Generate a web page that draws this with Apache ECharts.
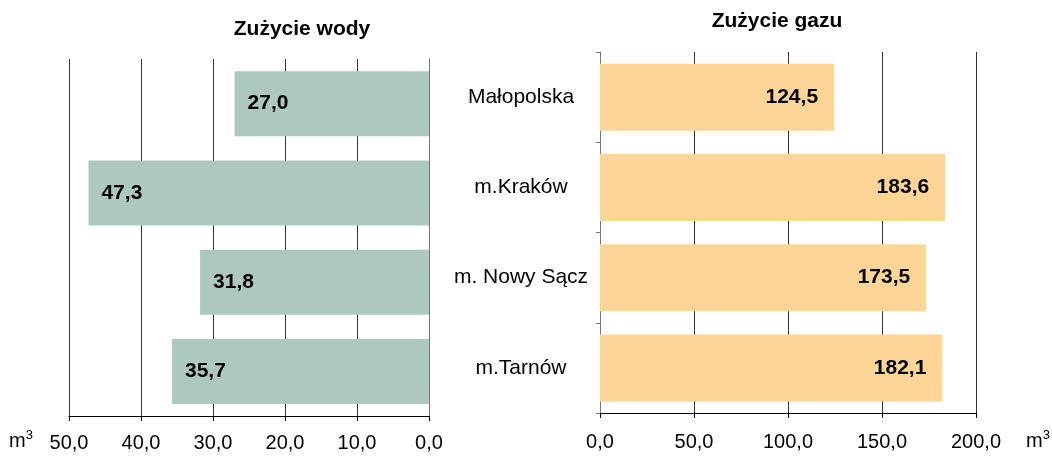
<!DOCTYPE html>
<html>
<head>
<meta charset="utf-8">
<script src="https://cdn.jsdelivr.net/npm/echarts@6/dist/echarts.min.js"></script>
<style>
  html, body { margin: 0; padding: 0; background: #fff; }
  #chart { width: 1052px; height: 457px; }
</style>
</head>
<body>
<div id="chart"></div>
<script>
  const categories = ['Małopolska', 'm.Kraków', 'm. Nowy Sącz', 'm.Tarnów'];
  const water = [27.0, 47.3, 31.8, 35.7];
  const gas = [124.5, 183.6, 173.5, 182.1];
  const titles = ['Zużycie wody', 'Zużycie gazu'];

  const font = '"Liberation Sans", Arial, sans-serif';
  const fmt = v => Number(v).toFixed(1).replace('.', ',');

  const unitStyle = {
    text: '{a|m}{s|3}',
    rich: {
      a: { fontSize: 20, fontFamily: font, fill: '#000' },
      s: { fontSize: 13, fontFamily: font, fill: '#000', verticalAlign: 'top', padding: [0, 0, 12, 0] }
    }
  };

  const chart = echarts.init(document.getElementById('chart'));
  const option = {
    animation: false,
    textStyle: { fontFamily: font },
    title: [
      { text: titles[0], left: 297, top: 14, textAlign: 'center',
        textStyle: { fontSize: 21, fontWeight: 'bold', color: '#000', fontFamily: font } },
      { text: titles[1], left: 772, top: 6, textAlign: 'center',
        textStyle: { fontSize: 21, fontWeight: 'bold', color: '#000', fontFamily: font } }
    ],
    graphic: [
      { type: 'text', left: 9, top: 429, style: unitStyle },
      { type: 'text', left: 1026, top: 429, style: unitStyle }
    ],
    grid: [
      { left: 69, right: 623, top: 59, bottom: 41 },
      { left: 600, right: 76, top: 52, bottom: 44 }
    ],
    xAxis: [
      { gridIndex: 0, type: 'value', min: 0, max: 50, interval: 10, inverse: true,
        axisLine: { show: true, lineStyle: { color: '#000', width: 1 } },
        axisTick: { show: true, length: 5, lineStyle: { color: '#000' } },
        splitLine: { show: true, lineStyle: { color: '#333', width: 1 } },
        axisLabel: { formatter: fmt, fontSize: 20, color: '#000', margin: 17, fontFamily: font } },
      { gridIndex: 1, type: 'value', min: 0, max: 200, interval: 50,
        axisLine: { show: true, lineStyle: { color: '#000', width: 1 } },
        axisTick: { show: true, length: 5, lineStyle: { color: '#000' } },
        splitLine: { show: true, lineStyle: { color: '#333', width: 1 } },
        axisLabel: { formatter: fmt, fontSize: 20, color: '#000', margin: 19, fontFamily: font } }
    ],
    yAxis: [
      { gridIndex: 0, type: 'category', data: categories, inverse: true, position: 'right',
        axisLine: { show: true, lineStyle: { color: '#777' } },
        axisTick: { show: false },
        axisLabel: { show: false } },
      { gridIndex: 1, type: 'category', data: categories, inverse: true,
        axisLine: { show: true, lineStyle: { color: '#777' } },
        axisTick: { show: true, length: 4, lineStyle: { color: '#777' } },
        axisLabel: { fontSize: 21, color: '#000', align: 'center', margin: 79, fontFamily: font } }
    ],
    series: [
      { type: 'bar', xAxisIndex: 0, yAxisIndex: 0, data: water, barWidth: 65,
        itemStyle: { color: '#ADC9BF' },
        label: { show: true, position: 'insideLeft', distance: 13, formatter: p => fmt(p.value),
          fontSize: 21, fontWeight: 'bold', color: '#000', fontFamily: font } },
      { type: 'bar', xAxisIndex: 1, yAxisIndex: 1, data: gas, barWidth: 67,
        itemStyle: { color: '#FDD597' },
        label: { show: true, position: 'insideRight', distance: 16, formatter: p => fmt(p.value),
          fontSize: 21, fontWeight: 'bold', color: '#000', fontFamily: font } }
    ]
  };
  chart.setOption(option);
</script>
</body>
</html>
